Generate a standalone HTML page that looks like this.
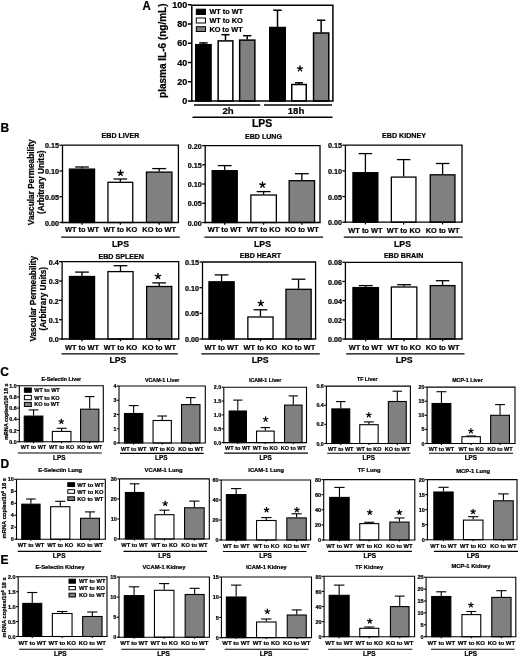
<!DOCTYPE html><html><head><meta charset="utf-8"><style>html,body{margin:0;padding:0;background:#fff;}svg{display:block;filter:grayscale(1);}text{font-family:"Liberation Sans", sans-serif;font-weight:bold;fill:#000;stroke:#000;stroke-width:0.22px;}</style></head><body>
<svg width="520" height="657" viewBox="0 0 520 657">
<rect x="0" y="0" width="520" height="657" fill="#fff"/>
<text transform="translate(142.6,9.6) scale(1,1.1)" font-size="11.4">A</text>
<text transform="translate(166.4,50.7) rotate(-90)" font-size="10" text-anchor="middle">plasma IL-6 (ng/mL)</text>
<line x1="203.4" y1="44.2" x2="203.4" y2="42.9" stroke="#000" stroke-width="1.5"/>
<line x1="199.2" y1="42.9" x2="207.6" y2="42.9" stroke="#000" stroke-width="1.5"/>
<rect x="195.75" y="44.7" width="15.3" height="56.3" fill="#000" stroke="#000" stroke-width="1.5"/>
<line x1="203.4" y1="101" x2="203.4" y2="101" stroke="#000" stroke-width="1.5"/>
<line x1="225.5" y1="40.4" x2="225.5" y2="34.7" stroke="#000" stroke-width="1.5"/>
<line x1="221.45" y1="34.7" x2="229.55" y2="34.7" stroke="#000" stroke-width="1.5"/>
<rect x="218.15" y="40.9" width="14.7" height="60.1" fill="#fff" stroke="#000" stroke-width="1.5"/>
<line x1="225.5" y1="101" x2="225.5" y2="101" stroke="#000" stroke-width="1.5"/>
<line x1="247.25" y1="39.6" x2="247.25" y2="35.7" stroke="#000" stroke-width="1.5"/>
<line x1="243.07" y1="35.7" x2="251.43" y2="35.7" stroke="#000" stroke-width="1.5"/>
<rect x="239.65" y="40.1" width="15.2" height="60.9" fill="#808080" stroke="#000" stroke-width="1.5"/>
<line x1="247.25" y1="101" x2="247.25" y2="101" stroke="#000" stroke-width="1.5"/>
<line x1="277.5" y1="27" x2="277.5" y2="10.2" stroke="#000" stroke-width="1.5"/>
<line x1="273.25" y1="10.2" x2="281.75" y2="10.2" stroke="#000" stroke-width="1.5"/>
<rect x="269.75" y="27.5" width="15.5" height="73.5" fill="#000" stroke="#000" stroke-width="1.5"/>
<line x1="277.5" y1="101" x2="277.5" y2="101" stroke="#000" stroke-width="1.5"/>
<line x1="299.0" y1="84" x2="299.0" y2="82.8" stroke="#000" stroke-width="1.5"/>
<line x1="295.0" y1="82.8" x2="303.0" y2="82.8" stroke="#000" stroke-width="1.5"/>
<rect x="291.75" y="84.5" width="14.5" height="16.5" fill="#fff" stroke="#000" stroke-width="1.5"/>
<line x1="299.0" y1="101" x2="299.0" y2="101" stroke="#000" stroke-width="1.5"/>
<line x1="321.15" y1="32.5" x2="321.15" y2="20.2" stroke="#000" stroke-width="1.5"/>
<line x1="316.97" y1="20.2" x2="325.32" y2="20.2" stroke="#000" stroke-width="1.5"/>
<rect x="313.55" y="33.0" width="15.2" height="68.0" fill="#808080" stroke="#000" stroke-width="1.5"/>
<line x1="321.15" y1="101" x2="321.15" y2="101" stroke="#000" stroke-width="1.5"/>
<path d="M191.8,5.2H332.9V101" fill="none" stroke="#000" stroke-width="1.5"/>
<line x1="191.8" y1="5.2" x2="191.8" y2="101.75" stroke="#000" stroke-width="1.5"/>
<line x1="191.05" y1="101" x2="333.65" y2="101" stroke="#000" stroke-width="1.5"/>
<line x1="187.8" y1="101.0" x2="191.8" y2="101.0" stroke="#000" stroke-width="1.5"/>
<text x="187.2" y="104.19" font-size="9" text-anchor="end" >0</text>
<line x1="187.8" y1="81.75" x2="191.8" y2="81.75" stroke="#000" stroke-width="1.5"/>
<text x="187.2" y="84.94" font-size="9" text-anchor="end" >20</text>
<line x1="187.8" y1="62.5" x2="191.8" y2="62.5" stroke="#000" stroke-width="1.5"/>
<text x="187.2" y="65.69" font-size="9" text-anchor="end" >40</text>
<line x1="187.8" y1="43.25" x2="191.8" y2="43.25" stroke="#000" stroke-width="1.5"/>
<text x="187.2" y="46.44" font-size="9" text-anchor="end" >60</text>
<line x1="187.8" y1="24.0" x2="191.8" y2="24.0" stroke="#000" stroke-width="1.5"/>
<text x="187.2" y="27.19" font-size="9" text-anchor="end" >80</text>
<line x1="187.8" y1="4.75" x2="191.8" y2="4.75" stroke="#000" stroke-width="1.5"/>
<text x="187.2" y="7.94" font-size="9" text-anchor="end" >100</text>
<rect x="196.3" y="9.2" width="9.2" height="5.3" fill="#000" stroke="#000" stroke-width="1"/>
<text x="209.4" y="14.45" font-size="7.3" text-anchor="start" >WT to WT</text>
<rect x="196.3" y="18.0" width="9.2" height="5.0" fill="#fff" stroke="#000" stroke-width="1"/>
<text x="209.4" y="23.1" font-size="7.3" text-anchor="start" >WT to KO</text>
<rect x="196.3" y="26.7" width="9.2" height="4.8" fill="#808080" stroke="#000" stroke-width="1"/>
<text x="209.4" y="31.7" font-size="7.3" text-anchor="start" >KO to WT</text>
<path d="M300,68.7L300.0,66.0M300,68.7L302.57,67.87M300,68.7L301.59,70.88M300,68.7L298.41,70.88M300,68.7L297.43,67.87" stroke="#000" stroke-width="1.3" stroke-linecap="round" fill="none"/>
<line x1="194" y1="105.1" x2="260.2" y2="105.1" stroke="#000" stroke-width="1.5"/>
<line x1="264" y1="105.1" x2="332" y2="105.1" stroke="#000" stroke-width="1.5"/>
<text x="228" y="114" font-size="9.6" text-anchor="middle" >2h</text>
<text x="296" y="114" font-size="9.6" text-anchor="middle" >18h</text>
<line x1="192.5" y1="117.2" x2="332.5" y2="117.2" stroke="#000" stroke-width="1.5"/>
<text x="262" y="126.7" font-size="10.4" text-anchor="middle" >LPS</text>
<text transform="translate(0.4,132.0) scale(1,1.1)" font-size="12.0">B</text>
<text transform="translate(33.9,182.3) rotate(-90)" font-size="8.3" text-anchor="middle">Vascular Permeability</text>
<text transform="translate(43.5,182.3) rotate(-90)" font-size="8.3" text-anchor="middle">(Arbitrary Units)</text>
<text transform="translate(36.1,298.7) rotate(-90)" font-size="8.3" text-anchor="middle">Vascular Permeability</text>
<text transform="translate(45.7,298.7) rotate(-90)" font-size="8.3" text-anchor="middle">(Arbitrary Units)</text>
<line x1="82.0" y1="168.6" x2="82.0" y2="167.0" stroke="#000" stroke-width="1.3"/>
<line x1="75.14" y1="167.0" x2="88.86" y2="167.0" stroke="#000" stroke-width="1.3"/>
<rect x="69.45" y="169.1" width="25.1" height="53.4" fill="#000" stroke="#000" stroke-width="1.3"/>
<line x1="82.0" y1="222.5" x2="82.0" y2="224.7" stroke="#000" stroke-width="1.3"/>
<line x1="120.35" y1="181.8" x2="120.35" y2="179.0" stroke="#000" stroke-width="1.3"/>
<line x1="113.56" y1="179.0" x2="127.14" y2="179.0" stroke="#000" stroke-width="1.3"/>
<rect x="107.95" y="182.3" width="24.8" height="40.2" fill="#fff" stroke="#000" stroke-width="1.3"/>
<line x1="120.35" y1="222.5" x2="120.35" y2="224.7" stroke="#000" stroke-width="1.3"/>
<line x1="159.2" y1="171.6" x2="159.2" y2="168.6" stroke="#000" stroke-width="1.3"/>
<line x1="152.23" y1="168.6" x2="166.17" y2="168.6" stroke="#000" stroke-width="1.3"/>
<rect x="146.45" y="172.1" width="25.5" height="50.4" fill="#808080" stroke="#000" stroke-width="1.3"/>
<line x1="159.2" y1="222.5" x2="159.2" y2="224.7" stroke="#000" stroke-width="1.3"/>
<path d="M62.5,145.2H178.4V222.5" fill="none" stroke="#000" stroke-width="1.3"/>
<line x1="62.5" y1="145.2" x2="62.5" y2="223.15" stroke="#000" stroke-width="1.3"/>
<line x1="61.85" y1="222.5" x2="179.05" y2="222.5" stroke="#000" stroke-width="1.3"/>
<line x1="59.5" y1="145.2" x2="62.5" y2="145.2" stroke="#000" stroke-width="1.3"/>
<text x="59.1" y="148.35" font-size="7.2" text-anchor="end" >0.15</text>
<line x1="59.5" y1="170.97" x2="62.5" y2="170.97" stroke="#000" stroke-width="1.3"/>
<text x="59.1" y="174.12" font-size="7.2" text-anchor="end" >0.10</text>
<line x1="59.5" y1="196.73" x2="62.5" y2="196.73" stroke="#000" stroke-width="1.3"/>
<text x="59.1" y="199.88" font-size="7.2" text-anchor="end" >0.05</text>
<line x1="59.5" y1="222.5" x2="62.5" y2="222.5" stroke="#000" stroke-width="1.3"/>
<text x="59.1" y="225.65" font-size="7.2" text-anchor="end" >0.00</text>
<text x="120.5" y="138.3" font-size="7.1" text-anchor="middle" >EBD LIVER</text>
<text x="82.0" y="232.3" font-size="7.4" text-anchor="middle" >WT to WT</text>
<text x="120.35" y="232.3" font-size="7.4" text-anchor="middle" >WT to KO</text>
<text x="159.2" y="232.3" font-size="7.4" text-anchor="middle" >KO to WT</text>
<line x1="61.2" y1="237.2" x2="179.8" y2="237.2" stroke="#000" stroke-width="1.3"/>
<text x="120.5" y="246.5" font-size="8.7" text-anchor="middle" >LPS</text>
<path d="M120.5,173.1L120.5,170.3M120.5,173.1L123.16,172.23M120.5,173.1L122.15,175.37M120.5,173.1L118.85,175.37M120.5,173.1L117.84,172.23" stroke="#000" stroke-width="1.4" stroke-linecap="round" fill="none"/>
<line x1="224.7" y1="170.2" x2="224.7" y2="165.6" stroke="#000" stroke-width="1.3"/>
<line x1="217.84" y1="165.6" x2="231.56" y2="165.6" stroke="#000" stroke-width="1.3"/>
<rect x="212.15" y="170.7" width="25.1" height="51.8" fill="#000" stroke="#000" stroke-width="1.3"/>
<line x1="224.7" y1="222.5" x2="224.7" y2="224.7" stroke="#000" stroke-width="1.3"/>
<line x1="263.6" y1="194.5" x2="263.6" y2="191.6" stroke="#000" stroke-width="1.3"/>
<line x1="256.63" y1="191.6" x2="270.57" y2="191.6" stroke="#000" stroke-width="1.3"/>
<rect x="250.85" y="195.0" width="25.5" height="27.5" fill="#fff" stroke="#000" stroke-width="1.3"/>
<line x1="263.6" y1="222.5" x2="263.6" y2="224.7" stroke="#000" stroke-width="1.3"/>
<line x1="301.85" y1="180.2" x2="301.85" y2="173.7" stroke="#000" stroke-width="1.3"/>
<line x1="294.91" y1="173.7" x2="308.79" y2="173.7" stroke="#000" stroke-width="1.3"/>
<rect x="289.15" y="180.7" width="25.4" height="41.8" fill="#808080" stroke="#000" stroke-width="1.3"/>
<line x1="301.85" y1="222.5" x2="301.85" y2="224.7" stroke="#000" stroke-width="1.3"/>
<path d="M205.2,145.6H320V222.5" fill="none" stroke="#000" stroke-width="1.3"/>
<line x1="205.2" y1="145.6" x2="205.2" y2="223.15" stroke="#000" stroke-width="1.3"/>
<line x1="204.55" y1="222.5" x2="320.65" y2="222.5" stroke="#000" stroke-width="1.3"/>
<line x1="202.2" y1="145.6" x2="205.2" y2="145.6" stroke="#000" stroke-width="1.3"/>
<text x="201.8" y="148.75" font-size="7.2" text-anchor="end" >0.20</text>
<line x1="202.2" y1="164.82" x2="205.2" y2="164.82" stroke="#000" stroke-width="1.3"/>
<text x="201.8" y="167.97" font-size="7.2" text-anchor="end" >0.15</text>
<line x1="202.2" y1="184.05" x2="205.2" y2="184.05" stroke="#000" stroke-width="1.3"/>
<text x="201.8" y="187.2" font-size="7.2" text-anchor="end" >0.10</text>
<line x1="202.2" y1="203.28" x2="205.2" y2="203.28" stroke="#000" stroke-width="1.3"/>
<text x="201.8" y="206.42" font-size="7.2" text-anchor="end" >0.05</text>
<line x1="202.2" y1="222.5" x2="205.2" y2="222.5" stroke="#000" stroke-width="1.3"/>
<text x="201.8" y="225.65" font-size="7.2" text-anchor="end" >0.00</text>
<text x="263.5" y="138.5" font-size="7.1" text-anchor="middle" >EBD LUNG</text>
<text x="224.7" y="232.3" font-size="7.4" text-anchor="middle" >WT to WT</text>
<text x="263.6" y="232.3" font-size="7.4" text-anchor="middle" >WT to KO</text>
<text x="301.85" y="232.3" font-size="7.4" text-anchor="middle" >KO to WT</text>
<line x1="204.4" y1="237.2" x2="323.1" y2="237.2" stroke="#000" stroke-width="1.3"/>
<text x="262.5" y="246.5" font-size="8.7" text-anchor="middle" >LPS</text>
<path d="M262.5,184.9L262.5,182.1M262.5,184.9L265.16,184.03M262.5,184.9L264.15,187.17M262.5,184.9L260.85,187.17M262.5,184.9L259.84,184.03" stroke="#000" stroke-width="1.4" stroke-linecap="round" fill="none"/>
<line x1="365.4" y1="172.2" x2="365.4" y2="153.6" stroke="#000" stroke-width="1.3"/>
<line x1="358.59" y1="153.6" x2="372.21" y2="153.6" stroke="#000" stroke-width="1.3"/>
<rect x="352.95" y="172.7" width="24.9" height="49.5" fill="#000" stroke="#000" stroke-width="1.3"/>
<line x1="365.4" y1="222.2" x2="365.4" y2="224.4" stroke="#000" stroke-width="1.3"/>
<line x1="403.65" y1="176.6" x2="403.65" y2="159.6" stroke="#000" stroke-width="1.3"/>
<line x1="396.92" y1="159.6" x2="410.38" y2="159.6" stroke="#000" stroke-width="1.3"/>
<rect x="391.35" y="177.1" width="24.6" height="45.1" fill="#fff" stroke="#000" stroke-width="1.3"/>
<line x1="403.65" y1="222.2" x2="403.65" y2="224.4" stroke="#000" stroke-width="1.3"/>
<line x1="442.6" y1="174.3" x2="442.6" y2="163.5" stroke="#000" stroke-width="1.3"/>
<line x1="435.84" y1="163.5" x2="449.36" y2="163.5" stroke="#000" stroke-width="1.3"/>
<rect x="430.25" y="174.8" width="24.7" height="47.4" fill="#808080" stroke="#000" stroke-width="1.3"/>
<line x1="442.6" y1="222.2" x2="442.6" y2="224.4" stroke="#000" stroke-width="1.3"/>
<path d="M345.4,145.2H462V222.2" fill="none" stroke="#000" stroke-width="1.3"/>
<line x1="345.4" y1="145.2" x2="345.4" y2="222.85" stroke="#000" stroke-width="1.3"/>
<line x1="344.75" y1="222.2" x2="462.65" y2="222.2" stroke="#000" stroke-width="1.3"/>
<line x1="342.4" y1="145.2" x2="345.4" y2="145.2" stroke="#000" stroke-width="1.3"/>
<text x="342.0" y="148.35" font-size="7.2" text-anchor="end" >0.15</text>
<line x1="342.4" y1="170.87" x2="345.4" y2="170.87" stroke="#000" stroke-width="1.3"/>
<text x="342.0" y="174.02" font-size="7.2" text-anchor="end" >0.10</text>
<line x1="342.4" y1="196.53" x2="345.4" y2="196.53" stroke="#000" stroke-width="1.3"/>
<text x="342.0" y="199.68" font-size="7.2" text-anchor="end" >0.05</text>
<line x1="342.4" y1="222.2" x2="345.4" y2="222.2" stroke="#000" stroke-width="1.3"/>
<text x="342.0" y="225.35" font-size="7.2" text-anchor="end" >0.00</text>
<text x="404" y="138.2" font-size="7.1" text-anchor="middle" >EBD KIDNEY</text>
<text x="365.4" y="232.6" font-size="7.4" text-anchor="middle" >WT to WT</text>
<text x="403.65" y="232.6" font-size="7.4" text-anchor="middle" >WT to KO</text>
<text x="442.6" y="232.6" font-size="7.4" text-anchor="middle" >KO to WT</text>
<line x1="343.8" y1="237.2" x2="462.6" y2="237.2" stroke="#000" stroke-width="1.3"/>
<text x="402.5" y="246.5" font-size="8.7" text-anchor="middle" >LPS</text>
<line x1="82.0" y1="276" x2="82.0" y2="272.1" stroke="#000" stroke-width="1.3"/>
<line x1="75.14" y1="272.1" x2="88.86" y2="272.1" stroke="#000" stroke-width="1.3"/>
<rect x="69.45" y="276.5" width="25.1" height="62.5" fill="#000" stroke="#000" stroke-width="1.3"/>
<line x1="82.0" y1="339" x2="82.0" y2="341.2" stroke="#000" stroke-width="1.3"/>
<line x1="120.5" y1="271.1" x2="120.5" y2="265.7" stroke="#000" stroke-width="1.3"/>
<line x1="113.64" y1="265.7" x2="127.36" y2="265.7" stroke="#000" stroke-width="1.3"/>
<rect x="107.95" y="271.6" width="25.1" height="67.4" fill="#fff" stroke="#000" stroke-width="1.3"/>
<line x1="120.5" y1="339" x2="120.5" y2="341.2" stroke="#000" stroke-width="1.3"/>
<line x1="159.2" y1="286" x2="159.2" y2="282.9" stroke="#000" stroke-width="1.3"/>
<line x1="152.34" y1="282.9" x2="166.06" y2="282.9" stroke="#000" stroke-width="1.3"/>
<rect x="146.65" y="286.5" width="25.1" height="52.5" fill="#808080" stroke="#000" stroke-width="1.3"/>
<line x1="159.2" y1="339" x2="159.2" y2="341.2" stroke="#000" stroke-width="1.3"/>
<path d="M62.1,261.7H178.7V339" fill="none" stroke="#000" stroke-width="1.3"/>
<line x1="62.1" y1="261.7" x2="62.1" y2="339.65" stroke="#000" stroke-width="1.3"/>
<line x1="61.45" y1="339" x2="179.35" y2="339" stroke="#000" stroke-width="1.3"/>
<line x1="59.1" y1="261.7" x2="62.1" y2="261.7" stroke="#000" stroke-width="1.3"/>
<text x="58.7" y="264.85" font-size="7.2" text-anchor="end" >0.4</text>
<line x1="59.1" y1="281.02" x2="62.1" y2="281.02" stroke="#000" stroke-width="1.3"/>
<text x="58.7" y="284.17" font-size="7.2" text-anchor="end" >0.3</text>
<line x1="59.1" y1="300.35" x2="62.1" y2="300.35" stroke="#000" stroke-width="1.3"/>
<text x="58.7" y="303.5" font-size="7.2" text-anchor="end" >0.2</text>
<line x1="59.1" y1="319.68" x2="62.1" y2="319.68" stroke="#000" stroke-width="1.3"/>
<text x="58.7" y="322.82" font-size="7.2" text-anchor="end" >0.1</text>
<line x1="59.1" y1="339.0" x2="62.1" y2="339.0" stroke="#000" stroke-width="1.3"/>
<text x="58.7" y="342.15" font-size="7.2" text-anchor="end" >0.0</text>
<text x="121.2" y="258.8" font-size="7.1" text-anchor="middle" >EBD SPLEEN</text>
<text x="82.0" y="349.6" font-size="7.4" text-anchor="middle" >WT to WT</text>
<text x="120.5" y="349.6" font-size="7.4" text-anchor="middle" >WT to KO</text>
<text x="159.2" y="349.6" font-size="7.4" text-anchor="middle" >KO to WT</text>
<line x1="61.5" y1="353.8" x2="177.9" y2="353.8" stroke="#000" stroke-width="1.3"/>
<text x="117.9" y="363.1" font-size="8.7" text-anchor="middle" >LPS</text>
<path d="M158,276.3L158.0,273.5M158,276.3L160.66,275.43M158,276.3L159.65,278.57M158,276.3L156.35,278.57M158,276.3L155.34,275.43" stroke="#000" stroke-width="1.4" stroke-linecap="round" fill="none"/>
<line x1="221.55" y1="281.3" x2="221.55" y2="274.9" stroke="#000" stroke-width="1.3"/>
<line x1="214.66" y1="274.9" x2="228.44" y2="274.9" stroke="#000" stroke-width="1.3"/>
<rect x="208.95" y="281.8" width="25.2" height="57.2" fill="#000" stroke="#000" stroke-width="1.3"/>
<line x1="221.55" y1="339" x2="221.55" y2="341.2" stroke="#000" stroke-width="1.3"/>
<line x1="260.45" y1="316.5" x2="260.45" y2="309.8" stroke="#000" stroke-width="1.3"/>
<line x1="253.56" y1="309.8" x2="267.34" y2="309.8" stroke="#000" stroke-width="1.3"/>
<rect x="247.85" y="317.0" width="25.2" height="22.0" fill="#fff" stroke="#000" stroke-width="1.3"/>
<line x1="260.45" y1="339" x2="260.45" y2="341.2" stroke="#000" stroke-width="1.3"/>
<line x1="298.55" y1="288.8" x2="298.55" y2="279.2" stroke="#000" stroke-width="1.3"/>
<line x1="291.66" y1="279.2" x2="305.44" y2="279.2" stroke="#000" stroke-width="1.3"/>
<rect x="285.95" y="289.3" width="25.2" height="49.7" fill="#808080" stroke="#000" stroke-width="1.3"/>
<line x1="298.55" y1="339" x2="298.55" y2="341.2" stroke="#000" stroke-width="1.3"/>
<path d="M202.5,262H315.6V339" fill="none" stroke="#000" stroke-width="1.3"/>
<line x1="202.5" y1="262" x2="202.5" y2="339.65" stroke="#000" stroke-width="1.3"/>
<line x1="201.85" y1="339" x2="316.25" y2="339" stroke="#000" stroke-width="1.3"/>
<line x1="199.5" y1="262.0" x2="202.5" y2="262.0" stroke="#000" stroke-width="1.3"/>
<text x="199.1" y="265.15" font-size="7.2" text-anchor="end" >0.15</text>
<line x1="199.5" y1="287.67" x2="202.5" y2="287.67" stroke="#000" stroke-width="1.3"/>
<text x="199.1" y="290.82" font-size="7.2" text-anchor="end" >0.10</text>
<line x1="199.5" y1="313.33" x2="202.5" y2="313.33" stroke="#000" stroke-width="1.3"/>
<text x="199.1" y="316.48" font-size="7.2" text-anchor="end" >0.05</text>
<line x1="199.5" y1="339.0" x2="202.5" y2="339.0" stroke="#000" stroke-width="1.3"/>
<text x="199.1" y="342.15" font-size="7.2" text-anchor="end" >0.00</text>
<text x="260.5" y="258.2" font-size="7.1" text-anchor="middle" >EBD HEART</text>
<text x="221.55" y="349.6" font-size="7.4" text-anchor="middle" >WT to WT</text>
<text x="260.45" y="349.6" font-size="7.4" text-anchor="middle" >WT to KO</text>
<text x="298.55" y="349.6" font-size="7.4" text-anchor="middle" >KO to WT</text>
<line x1="201.3" y1="353.8" x2="319.8" y2="353.8" stroke="#000" stroke-width="1.3"/>
<text x="260.2" y="363.1" font-size="8.7" text-anchor="middle" >LPS</text>
<path d="M260.8,303.3L260.8,300.5M260.8,303.3L263.46,302.43M260.8,303.3L262.45,305.57M260.8,303.3L259.15,305.57M260.8,303.3L258.14,302.43" stroke="#000" stroke-width="1.4" stroke-linecap="round" fill="none"/>
<line x1="365.7" y1="287.1" x2="365.7" y2="285.6" stroke="#000" stroke-width="1.3"/>
<line x1="358.73" y1="285.6" x2="372.67" y2="285.6" stroke="#000" stroke-width="1.3"/>
<rect x="352.95" y="287.6" width="25.5" height="51.4" fill="#000" stroke="#000" stroke-width="1.3"/>
<line x1="365.7" y1="339" x2="365.7" y2="341.2" stroke="#000" stroke-width="1.3"/>
<line x1="404.1" y1="286.5" x2="404.1" y2="284.7" stroke="#000" stroke-width="1.3"/>
<line x1="397.13" y1="284.7" x2="411.07" y2="284.7" stroke="#000" stroke-width="1.3"/>
<rect x="391.35" y="287.0" width="25.5" height="52.0" fill="#fff" stroke="#000" stroke-width="1.3"/>
<line x1="404.1" y1="339" x2="404.1" y2="341.2" stroke="#000" stroke-width="1.3"/>
<line x1="442.6" y1="285.1" x2="442.6" y2="280.7" stroke="#000" stroke-width="1.3"/>
<line x1="435.84" y1="280.7" x2="449.36" y2="280.7" stroke="#000" stroke-width="1.3"/>
<rect x="430.25" y="285.6" width="24.7" height="53.4" fill="#808080" stroke="#000" stroke-width="1.3"/>
<line x1="442.6" y1="339" x2="442.6" y2="341.2" stroke="#000" stroke-width="1.3"/>
<path d="M345.4,262.3H462V339" fill="none" stroke="#000" stroke-width="1.3"/>
<line x1="345.4" y1="262.3" x2="345.4" y2="339.65" stroke="#000" stroke-width="1.3"/>
<line x1="344.75" y1="339" x2="462.65" y2="339" stroke="#000" stroke-width="1.3"/>
<line x1="342.4" y1="262.3" x2="345.4" y2="262.3" stroke="#000" stroke-width="1.3"/>
<text x="342.0" y="265.45" font-size="7.2" text-anchor="end" >0.08</text>
<line x1="342.4" y1="281.48" x2="345.4" y2="281.48" stroke="#000" stroke-width="1.3"/>
<text x="342.0" y="284.62" font-size="7.2" text-anchor="end" >0.06</text>
<line x1="342.4" y1="300.65" x2="345.4" y2="300.65" stroke="#000" stroke-width="1.3"/>
<text x="342.0" y="303.8" font-size="7.2" text-anchor="end" >0.04</text>
<line x1="342.4" y1="319.82" x2="345.4" y2="319.82" stroke="#000" stroke-width="1.3"/>
<text x="342.0" y="322.97" font-size="7.2" text-anchor="end" >0.02</text>
<line x1="342.4" y1="339.0" x2="345.4" y2="339.0" stroke="#000" stroke-width="1.3"/>
<text x="342.0" y="342.15" font-size="7.2" text-anchor="end" >0.00</text>
<text x="403.6" y="258.2" font-size="7.1" text-anchor="middle" >EBD BRAIN</text>
<text x="365.7" y="349.6" font-size="7.4" text-anchor="middle" >WT to WT</text>
<text x="404.1" y="349.6" font-size="7.4" text-anchor="middle" >WT to KO</text>
<text x="442.6" y="349.6" font-size="7.4" text-anchor="middle" >KO to WT</text>
<line x1="346.2" y1="353.8" x2="464.5" y2="353.8" stroke="#000" stroke-width="1.3"/>
<text x="404.2" y="363.1" font-size="8.7" text-anchor="middle" >LPS</text>
<text transform="translate(0.2,375.6) scale(1,1.1)" font-size="12.0">C</text>
<text transform="translate(0.4,467.5) scale(1,1.1)" font-size="12.0">D</text>
<text transform="translate(0.4,563.7) scale(1,1.1)" font-size="12.0">E</text>
<text transform="translate(8.4,411.7) rotate(-90)" font-size="5.4" text-anchor="middle">mRNA copies/10<tspan font-size="3.51" dy="-1.62">6</tspan><tspan dy="1.62"> 18 s</tspan></text>
<text transform="translate(5.6,508.2) rotate(-90)" font-size="5.8" text-anchor="middle">mRNA copies/10<tspan font-size="3.77" dy="-1.74">6</tspan><tspan dy="1.74"> 18 s</tspan></text>
<text transform="translate(5.6,607.4) rotate(-90)" font-size="5.75" text-anchor="middle">mRNA copies/10<tspan font-size="3.74" dy="-1.72">6</tspan><tspan dy="1.72"> 18 s</tspan></text>
<line x1="33.55" y1="415.6" x2="33.55" y2="409.9" stroke="#000" stroke-width="1.1"/>
<line x1="28.62" y1="409.9" x2="38.47" y2="409.9" stroke="#000" stroke-width="1.1"/>
<rect x="24.25" y="416.1" width="18.6" height="25.6" fill="#000" stroke="#000" stroke-width="1.1"/>
<line x1="33.55" y1="441.7" x2="33.55" y2="443.2" stroke="#000" stroke-width="1.1"/>
<line x1="61.65" y1="430.9" x2="61.65" y2="428.3" stroke="#000" stroke-width="1.1"/>
<line x1="56.72" y1="428.3" x2="66.58" y2="428.3" stroke="#000" stroke-width="1.1"/>
<rect x="52.35" y="431.4" width="18.6" height="10.3" fill="#fff" stroke="#000" stroke-width="1.1"/>
<line x1="61.65" y1="441.7" x2="61.65" y2="443.2" stroke="#000" stroke-width="1.1"/>
<line x1="89.7" y1="408.7" x2="89.7" y2="396.6" stroke="#000" stroke-width="1.1"/>
<line x1="84.85" y1="396.6" x2="94.55" y2="396.6" stroke="#000" stroke-width="1.1"/>
<rect x="80.55" y="409.2" width="18.3" height="32.5" fill="#808080" stroke="#000" stroke-width="1.1"/>
<line x1="89.7" y1="441.7" x2="89.7" y2="443.2" stroke="#000" stroke-width="1.1"/>
<path d="M19.3,385.7H103.3V441.7" fill="none" stroke="#000" stroke-width="1.1"/>
<line x1="19.3" y1="385.7" x2="19.3" y2="442.25" stroke="#000" stroke-width="1.1"/>
<line x1="18.75" y1="441.7" x2="103.85" y2="441.7" stroke="#000" stroke-width="1.1"/>
<line x1="17.1" y1="385.7" x2="19.3" y2="385.7" stroke="#000" stroke-width="1.1"/>
<text x="16.7" y="387.78" font-size="5.3" text-anchor="end" >1.0</text>
<line x1="17.1" y1="396.9" x2="19.3" y2="396.9" stroke="#000" stroke-width="1.1"/>
<text x="16.7" y="398.98" font-size="5.3" text-anchor="end" >0.8</text>
<line x1="17.1" y1="408.1" x2="19.3" y2="408.1" stroke="#000" stroke-width="1.1"/>
<text x="16.7" y="410.18" font-size="5.3" text-anchor="end" >0.6</text>
<line x1="17.1" y1="419.3" x2="19.3" y2="419.3" stroke="#000" stroke-width="1.1"/>
<text x="16.7" y="421.38" font-size="5.3" text-anchor="end" >0.4</text>
<line x1="17.1" y1="430.5" x2="19.3" y2="430.5" stroke="#000" stroke-width="1.1"/>
<text x="16.7" y="432.58" font-size="5.3" text-anchor="end" >0.2</text>
<line x1="17.1" y1="441.7" x2="19.3" y2="441.7" stroke="#000" stroke-width="1.1"/>
<text x="16.7" y="443.78" font-size="5.3" text-anchor="end" >0.0</text>
<text x="61.3" y="381.41" font-size="5.3" text-anchor="middle" >E-Selectin Liver</text>
<text x="33.55" y="448.88" font-size="5.5" text-anchor="middle" >WT to WT</text>
<text x="61.65" y="448.88" font-size="5.5" text-anchor="middle" >WT to KO</text>
<text x="89.7" y="448.88" font-size="5.5" text-anchor="middle" >KO to WT</text>
<line x1="17.8" y1="453.0" x2="101.7" y2="453.0" stroke="#000" stroke-width="1.1"/>
<text x="59.3" y="459.8" font-size="6.4" text-anchor="middle" >LPS</text>
<path d="M61.3,421.55L61.3,419.15M61.3,421.55L63.58,420.81M61.3,421.55L62.71,423.49M61.3,421.55L59.89,423.49M61.3,421.55L59.02,420.81" stroke="#000" stroke-width="1.2" stroke-linecap="round" fill="none"/>
<rect x="24.4" y="388.0" width="6.9" height="4.3" fill="#000" stroke="#000" stroke-width="1"/>
<text x="34.2" y="392.15" font-size="5.55" text-anchor="start" >WT to WT</text>
<rect x="24.4" y="395.4" width="6.9" height="4.3" fill="#fff" stroke="#000" stroke-width="1"/>
<text x="34.2" y="399.55" font-size="5.55" text-anchor="start" >WT to KO</text>
<rect x="24.4" y="402.4" width="6.9" height="4.1" fill="#808080" stroke="#000" stroke-width="1"/>
<text x="34.2" y="406.45" font-size="5.55" text-anchor="start" >KO to WT</text>
<line x1="133.65" y1="413" x2="133.65" y2="405.6" stroke="#000" stroke-width="1.1"/>
<line x1="128.78" y1="405.6" x2="138.53" y2="405.6" stroke="#000" stroke-width="1.1"/>
<rect x="124.45" y="413.5" width="18.4" height="29.5" fill="#000" stroke="#000" stroke-width="1.1"/>
<line x1="133.65" y1="443" x2="133.65" y2="444.5" stroke="#000" stroke-width="1.1"/>
<line x1="162.2" y1="420" x2="162.2" y2="416.0" stroke="#000" stroke-width="1.1"/>
<line x1="157.35" y1="416.0" x2="167.05" y2="416.0" stroke="#000" stroke-width="1.1"/>
<rect x="153.05" y="420.5" width="18.3" height="22.5" fill="#fff" stroke="#000" stroke-width="1.1"/>
<line x1="162.2" y1="443" x2="162.2" y2="444.5" stroke="#000" stroke-width="1.1"/>
<line x1="190.75" y1="404.1" x2="190.75" y2="397.6" stroke="#000" stroke-width="1.1"/>
<line x1="185.88" y1="397.6" x2="195.62" y2="397.6" stroke="#000" stroke-width="1.1"/>
<rect x="181.55" y="404.6" width="18.4" height="38.4" fill="#808080" stroke="#000" stroke-width="1.1"/>
<line x1="190.75" y1="443" x2="190.75" y2="444.5" stroke="#000" stroke-width="1.1"/>
<path d="M119,386H205.3V443" fill="none" stroke="#000" stroke-width="1.1"/>
<line x1="119" y1="386" x2="119" y2="443.55" stroke="#000" stroke-width="1.1"/>
<line x1="118.45" y1="443" x2="205.85" y2="443" stroke="#000" stroke-width="1.1"/>
<line x1="116.8" y1="386.0" x2="119" y2="386.0" stroke="#000" stroke-width="1.1"/>
<text x="116.4" y="388.08" font-size="5.3" text-anchor="end" >4</text>
<line x1="116.8" y1="400.25" x2="119" y2="400.25" stroke="#000" stroke-width="1.1"/>
<text x="116.4" y="402.33" font-size="5.3" text-anchor="end" >3</text>
<line x1="116.8" y1="414.5" x2="119" y2="414.5" stroke="#000" stroke-width="1.1"/>
<text x="116.4" y="416.58" font-size="5.3" text-anchor="end" >2</text>
<line x1="116.8" y1="428.75" x2="119" y2="428.75" stroke="#000" stroke-width="1.1"/>
<text x="116.4" y="430.83" font-size="5.3" text-anchor="end" >1</text>
<line x1="116.8" y1="443.0" x2="119" y2="443.0" stroke="#000" stroke-width="1.1"/>
<text x="116.4" y="445.08" font-size="5.3" text-anchor="end" >0</text>
<text x="162.2" y="382.11" font-size="5.3" text-anchor="middle" >VCAM-1 Liver</text>
<text x="133.65" y="451.08" font-size="5.5" text-anchor="middle" >WT to WT</text>
<text x="162.2" y="451.08" font-size="5.5" text-anchor="middle" >WT to KO</text>
<text x="190.75" y="451.08" font-size="5.5" text-anchor="middle" >KO to WT</text>
<line x1="120" y1="453.4" x2="203.7" y2="453.4" stroke="#000" stroke-width="1.1"/>
<text x="161.3" y="460.0" font-size="6.4" text-anchor="middle" >LPS</text>
<line x1="237.8" y1="410.5" x2="237.8" y2="400.1" stroke="#000" stroke-width="1.1"/>
<line x1="233.2" y1="400.1" x2="242.4" y2="400.1" stroke="#000" stroke-width="1.1"/>
<rect x="229.15" y="411.0" width="17.3" height="31.6" fill="#000" stroke="#000" stroke-width="1.1"/>
<line x1="237.8" y1="442.6" x2="237.8" y2="444.1" stroke="#000" stroke-width="1.1"/>
<line x1="265.35" y1="430.6" x2="265.35" y2="427.6" stroke="#000" stroke-width="1.1"/>
<line x1="260.68" y1="427.6" x2="270.03" y2="427.6" stroke="#000" stroke-width="1.1"/>
<rect x="256.55" y="431.1" width="17.6" height="11.5" fill="#fff" stroke="#000" stroke-width="1.1"/>
<line x1="265.35" y1="442.6" x2="265.35" y2="444.1" stroke="#000" stroke-width="1.1"/>
<line x1="293.3" y1="404.6" x2="293.3" y2="395.9" stroke="#000" stroke-width="1.1"/>
<line x1="288.65" y1="395.9" x2="297.95" y2="395.9" stroke="#000" stroke-width="1.1"/>
<rect x="284.55" y="405.1" width="17.5" height="37.5" fill="#808080" stroke="#000" stroke-width="1.1"/>
<line x1="293.3" y1="442.6" x2="293.3" y2="444.1" stroke="#000" stroke-width="1.1"/>
<path d="M223.8,387.2H306.5V442.6" fill="none" stroke="#000" stroke-width="1.1"/>
<line x1="223.8" y1="387.2" x2="223.8" y2="443.15" stroke="#000" stroke-width="1.1"/>
<line x1="223.25" y1="442.6" x2="307.05" y2="442.6" stroke="#000" stroke-width="1.1"/>
<line x1="221.6" y1="387.2" x2="223.8" y2="387.2" stroke="#000" stroke-width="1.1"/>
<text x="221.2" y="389.28" font-size="5.3" text-anchor="end" >2.0</text>
<line x1="221.6" y1="401.05" x2="223.8" y2="401.05" stroke="#000" stroke-width="1.1"/>
<text x="221.2" y="403.13" font-size="5.3" text-anchor="end" >1.5</text>
<line x1="221.6" y1="414.9" x2="223.8" y2="414.9" stroke="#000" stroke-width="1.1"/>
<text x="221.2" y="416.98" font-size="5.3" text-anchor="end" >1.0</text>
<line x1="221.6" y1="428.75" x2="223.8" y2="428.75" stroke="#000" stroke-width="1.1"/>
<text x="221.2" y="430.83" font-size="5.3" text-anchor="end" >0.5</text>
<line x1="221.6" y1="442.6" x2="223.8" y2="442.6" stroke="#000" stroke-width="1.1"/>
<text x="221.2" y="444.68" font-size="5.3" text-anchor="end" >0.0</text>
<text x="265.2" y="382.11" font-size="5.3" text-anchor="middle" >ICAM-1 Liver</text>
<text x="237.8" y="450.08" font-size="5.5" text-anchor="middle" >WT to WT</text>
<text x="265.35" y="450.08" font-size="5.5" text-anchor="middle" >WT to KO</text>
<text x="293.3" y="450.08" font-size="5.5" text-anchor="middle" >KO to WT</text>
<line x1="224.3" y1="453.1" x2="308" y2="453.1" stroke="#000" stroke-width="1.1"/>
<text x="265.6" y="460.0" font-size="6.4" text-anchor="middle" >LPS</text>
<path d="M265.6,419.25L265.6,416.85M265.6,419.25L267.88,418.51M265.6,419.25L267.01,421.19M265.6,419.25L264.19,421.19M265.6,419.25L263.32,418.51" stroke="#000" stroke-width="1.2" stroke-linecap="round" fill="none"/>
<line x1="340.8" y1="408.4" x2="340.8" y2="401.6" stroke="#000" stroke-width="1.1"/>
<line x1="336.05" y1="401.6" x2="345.55" y2="401.6" stroke="#000" stroke-width="1.1"/>
<rect x="331.85" y="408.9" width="17.9" height="34.6" fill="#000" stroke="#000" stroke-width="1.1"/>
<line x1="340.8" y1="443.5" x2="340.8" y2="445.0" stroke="#000" stroke-width="1.1"/>
<line x1="368.95" y1="424.2" x2="368.95" y2="421.9" stroke="#000" stroke-width="1.1"/>
<line x1="364.07" y1="421.9" x2="373.82" y2="421.9" stroke="#000" stroke-width="1.1"/>
<rect x="359.75" y="424.7" width="18.4" height="18.8" fill="#fff" stroke="#000" stroke-width="1.1"/>
<line x1="368.95" y1="443.5" x2="368.95" y2="445.0" stroke="#000" stroke-width="1.1"/>
<line x1="397.3" y1="401" x2="397.3" y2="391.2" stroke="#000" stroke-width="1.1"/>
<line x1="392.55" y1="391.2" x2="402.05" y2="391.2" stroke="#000" stroke-width="1.1"/>
<rect x="388.35" y="401.5" width="17.9" height="42.0" fill="#808080" stroke="#000" stroke-width="1.1"/>
<line x1="397.3" y1="443.5" x2="397.3" y2="445.0" stroke="#000" stroke-width="1.1"/>
<path d="M326.4,386.1H410.4V443.5" fill="none" stroke="#000" stroke-width="1.1"/>
<line x1="326.4" y1="386.1" x2="326.4" y2="444.05" stroke="#000" stroke-width="1.1"/>
<line x1="325.85" y1="443.5" x2="410.95" y2="443.5" stroke="#000" stroke-width="1.1"/>
<line x1="324.2" y1="386.1" x2="326.4" y2="386.1" stroke="#000" stroke-width="1.1"/>
<text x="323.8" y="388.18" font-size="5.3" text-anchor="end" >0.6</text>
<line x1="324.2" y1="405.23" x2="326.4" y2="405.23" stroke="#000" stroke-width="1.1"/>
<text x="323.8" y="407.31" font-size="5.3" text-anchor="end" >0.4</text>
<line x1="324.2" y1="424.37" x2="326.4" y2="424.37" stroke="#000" stroke-width="1.1"/>
<text x="323.8" y="426.44" font-size="5.3" text-anchor="end" >0.2</text>
<line x1="324.2" y1="443.5" x2="326.4" y2="443.5" stroke="#000" stroke-width="1.1"/>
<text x="323.8" y="445.58" font-size="5.3" text-anchor="end" >0.0</text>
<text x="367.2" y="381.31" font-size="5.3" text-anchor="middle" >TF Liver</text>
<text x="340.8" y="450.98" font-size="5.5" text-anchor="middle" >WT to WT</text>
<text x="368.95" y="450.98" font-size="5.5" text-anchor="middle" >WT to KO</text>
<text x="397.3" y="450.98" font-size="5.5" text-anchor="middle" >KO to WT</text>
<line x1="327.2" y1="453.3" x2="410.4" y2="453.3" stroke="#000" stroke-width="1.1"/>
<text x="368.8" y="460.1" font-size="6.4" text-anchor="middle" >LPS</text>
<path d="M368.8,414.95L368.8,412.55M368.8,414.95L371.08,414.21M368.8,414.95L370.21,416.89M368.8,414.95L367.39,416.89M368.8,414.95L366.52,414.21" stroke="#000" stroke-width="1.2" stroke-linecap="round" fill="none"/>
<line x1="441.45" y1="403" x2="441.45" y2="391.7" stroke="#000" stroke-width="1.1"/>
<line x1="436.48" y1="391.7" x2="446.42" y2="391.7" stroke="#000" stroke-width="1.1"/>
<rect x="432.05" y="403.5" width="18.8" height="40.0" fill="#000" stroke="#000" stroke-width="1.1"/>
<line x1="441.45" y1="443.5" x2="441.45" y2="445.0" stroke="#000" stroke-width="1.1"/>
<line x1="471.15" y1="436.2" x2="471.15" y2="436.0" stroke="#000" stroke-width="1.1"/>
<line x1="466.27" y1="436.0" x2="476.02" y2="436.0" stroke="#000" stroke-width="1.1"/>
<rect x="461.95" y="436.7" width="18.4" height="6.8" fill="#fff" stroke="#000" stroke-width="1.1"/>
<line x1="471.15" y1="443.5" x2="471.15" y2="445.0" stroke="#000" stroke-width="1.1"/>
<line x1="500.05" y1="414.8" x2="500.05" y2="404.6" stroke="#000" stroke-width="1.1"/>
<line x1="495.08" y1="404.6" x2="505.02" y2="404.6" stroke="#000" stroke-width="1.1"/>
<rect x="490.65" y="415.3" width="18.8" height="28.2" fill="#808080" stroke="#000" stroke-width="1.1"/>
<line x1="500.05" y1="443.5" x2="500.05" y2="445.0" stroke="#000" stroke-width="1.1"/>
<path d="M427.1,387.1H515V443.5" fill="none" stroke="#000" stroke-width="1.1"/>
<line x1="427.1" y1="387.1" x2="427.1" y2="444.05" stroke="#000" stroke-width="1.1"/>
<line x1="426.55" y1="443.5" x2="515.55" y2="443.5" stroke="#000" stroke-width="1.1"/>
<line x1="424.9" y1="387.1" x2="427.1" y2="387.1" stroke="#000" stroke-width="1.1"/>
<text x="424.5" y="389.18" font-size="5.3" text-anchor="end" >20</text>
<line x1="424.9" y1="401.2" x2="427.1" y2="401.2" stroke="#000" stroke-width="1.1"/>
<text x="424.5" y="403.28" font-size="5.3" text-anchor="end" >15</text>
<line x1="424.9" y1="415.3" x2="427.1" y2="415.3" stroke="#000" stroke-width="1.1"/>
<text x="424.5" y="417.38" font-size="5.3" text-anchor="end" >10</text>
<line x1="424.9" y1="429.4" x2="427.1" y2="429.4" stroke="#000" stroke-width="1.1"/>
<text x="424.5" y="431.48" font-size="5.3" text-anchor="end" >5</text>
<line x1="424.9" y1="443.5" x2="427.1" y2="443.5" stroke="#000" stroke-width="1.1"/>
<text x="424.5" y="445.58" font-size="5.3" text-anchor="end" >0</text>
<text x="467.5" y="381.91" font-size="5.3" text-anchor="middle" >MCP-1 Liver</text>
<text x="441.45" y="450.58" font-size="5.5" text-anchor="middle" >WT to WT</text>
<text x="471.15" y="450.58" font-size="5.5" text-anchor="middle" >WT to KO</text>
<text x="500.05" y="450.58" font-size="5.5" text-anchor="middle" >KO to WT</text>
<line x1="429.1" y1="453.2" x2="513.1" y2="453.2" stroke="#000" stroke-width="1.1"/>
<text x="470.9" y="460.2" font-size="6.4" text-anchor="middle" >LPS</text>
<path d="M470.9,430.95L470.9,428.55M470.9,430.95L473.18,430.21M470.9,430.95L472.31,432.89M470.9,430.95L469.49,432.89M470.9,430.95L468.62,430.21" stroke="#000" stroke-width="1.2" stroke-linecap="round" fill="none"/>
<line x1="30.9" y1="503.7" x2="30.9" y2="499.0" stroke="#000" stroke-width="1.1"/>
<line x1="26.05" y1="499.0" x2="35.75" y2="499.0" stroke="#000" stroke-width="1.1"/>
<rect x="21.75" y="504.2" width="18.3" height="35.0" fill="#000" stroke="#000" stroke-width="1.1"/>
<line x1="30.9" y1="539.2" x2="30.9" y2="540.7" stroke="#000" stroke-width="1.1"/>
<line x1="60.25" y1="506.2" x2="60.25" y2="501.3" stroke="#000" stroke-width="1.1"/>
<line x1="55.17" y1="501.3" x2="65.33" y2="501.3" stroke="#000" stroke-width="1.1"/>
<rect x="50.65" y="506.7" width="19.2" height="32.5" fill="#fff" stroke="#000" stroke-width="1.1"/>
<line x1="60.25" y1="539.2" x2="60.25" y2="540.7" stroke="#000" stroke-width="1.1"/>
<line x1="90.0" y1="517.8" x2="90.0" y2="511.9" stroke="#000" stroke-width="1.1"/>
<line x1="85.0" y1="511.9" x2="95.0" y2="511.9" stroke="#000" stroke-width="1.1"/>
<rect x="80.55" y="518.3" width="18.9" height="20.9" fill="#808080" stroke="#000" stroke-width="1.1"/>
<line x1="90.0" y1="539.2" x2="90.0" y2="540.7" stroke="#000" stroke-width="1.1"/>
<path d="M16.5,479.3H105.3V539.2" fill="none" stroke="#000" stroke-width="1.1"/>
<line x1="16.5" y1="479.3" x2="16.5" y2="539.75" stroke="#000" stroke-width="1.1"/>
<line x1="15.95" y1="539.2" x2="105.85" y2="539.2" stroke="#000" stroke-width="1.1"/>
<line x1="14.3" y1="479.3" x2="16.5" y2="479.3" stroke="#000" stroke-width="1.1"/>
<text x="13.9" y="481.45" font-size="5.5" text-anchor="end" >10</text>
<line x1="14.3" y1="491.28" x2="16.5" y2="491.28" stroke="#000" stroke-width="1.1"/>
<text x="13.9" y="493.43" font-size="5.5" text-anchor="end" >8</text>
<line x1="14.3" y1="503.26" x2="16.5" y2="503.26" stroke="#000" stroke-width="1.1"/>
<text x="13.9" y="505.41" font-size="5.5" text-anchor="end" >6</text>
<line x1="14.3" y1="515.24" x2="16.5" y2="515.24" stroke="#000" stroke-width="1.1"/>
<text x="13.9" y="517.39" font-size="5.5" text-anchor="end" >4</text>
<line x1="14.3" y1="527.22" x2="16.5" y2="527.22" stroke="#000" stroke-width="1.1"/>
<text x="13.9" y="529.37" font-size="5.5" text-anchor="end" >2</text>
<line x1="14.3" y1="539.2" x2="16.5" y2="539.2" stroke="#000" stroke-width="1.1"/>
<text x="13.9" y="541.35" font-size="5.5" text-anchor="end" >0</text>
<text x="60.2" y="472.29" font-size="5.8" text-anchor="middle" >E-Selectin Lung</text>
<text x="30.9" y="546.97" font-size="5.75" text-anchor="middle" >WT to WT</text>
<text x="60.25" y="546.97" font-size="5.75" text-anchor="middle" >WT to KO</text>
<text x="90.0" y="546.97" font-size="5.75" text-anchor="middle" >KO to WT</text>
<line x1="17.7" y1="551.4" x2="101.2" y2="551.4" stroke="#000" stroke-width="1.1"/>
<text x="59.2" y="557.84" font-size="6.5" text-anchor="middle" >LPS</text>
<rect x="67.8" y="482.7" width="6.8" height="3.8" fill="#000" stroke="#000" stroke-width="1"/>
<text x="77.2" y="486.67" font-size="5.75" text-anchor="start" >WT to WT</text>
<rect x="67.8" y="489.7" width="6.8" height="3.6" fill="#fff" stroke="#000" stroke-width="1"/>
<text x="77.2" y="493.57" font-size="5.75" text-anchor="start" >WT to KO</text>
<rect x="67.8" y="496.8" width="6.8" height="3.7" fill="#808080" stroke="#000" stroke-width="1"/>
<text x="77.2" y="500.72" font-size="5.75" text-anchor="start" >KO to WT</text>
<line x1="134.6" y1="492" x2="134.6" y2="483.8" stroke="#000" stroke-width="1.1"/>
<line x1="129.7" y1="483.8" x2="139.5" y2="483.8" stroke="#000" stroke-width="1.1"/>
<rect x="125.35" y="492.5" width="18.5" height="46.5" fill="#000" stroke="#000" stroke-width="1.1"/>
<line x1="134.6" y1="539" x2="134.6" y2="540.5" stroke="#000" stroke-width="1.1"/>
<line x1="164.45" y1="514.2" x2="164.45" y2="510.2" stroke="#000" stroke-width="1.1"/>
<line x1="159.42" y1="510.2" x2="169.47" y2="510.2" stroke="#000" stroke-width="1.1"/>
<rect x="154.95" y="514.7" width="19.0" height="24.3" fill="#fff" stroke="#000" stroke-width="1.1"/>
<line x1="164.45" y1="539" x2="164.45" y2="540.5" stroke="#000" stroke-width="1.1"/>
<line x1="194.35" y1="507.3" x2="194.35" y2="501.1" stroke="#000" stroke-width="1.1"/>
<line x1="189.18" y1="501.1" x2="199.52" y2="501.1" stroke="#000" stroke-width="1.1"/>
<rect x="184.55" y="507.8" width="19.6" height="31.2" fill="#808080" stroke="#000" stroke-width="1.1"/>
<line x1="194.35" y1="539" x2="194.35" y2="540.5" stroke="#000" stroke-width="1.1"/>
<path d="M119.5,478.9H209.3V539" fill="none" stroke="#000" stroke-width="1.1"/>
<line x1="119.5" y1="478.9" x2="119.5" y2="539.55" stroke="#000" stroke-width="1.1"/>
<line x1="118.95" y1="539" x2="209.85" y2="539" stroke="#000" stroke-width="1.1"/>
<line x1="117.3" y1="478.9" x2="119.5" y2="478.9" stroke="#000" stroke-width="1.1"/>
<text x="116.9" y="481.05" font-size="5.5" text-anchor="end" >30</text>
<line x1="117.3" y1="498.93" x2="119.5" y2="498.93" stroke="#000" stroke-width="1.1"/>
<text x="116.9" y="501.08" font-size="5.5" text-anchor="end" >20</text>
<line x1="117.3" y1="518.97" x2="119.5" y2="518.97" stroke="#000" stroke-width="1.1"/>
<text x="116.9" y="521.11" font-size="5.5" text-anchor="end" >10</text>
<line x1="117.3" y1="539.0" x2="119.5" y2="539.0" stroke="#000" stroke-width="1.1"/>
<text x="116.9" y="541.15" font-size="5.5" text-anchor="end" >0</text>
<text x="163.6" y="472.29" font-size="5.8" text-anchor="middle" >VCAM-1 Lung</text>
<text x="134.6" y="546.97" font-size="5.75" text-anchor="middle" >WT to WT</text>
<text x="164.45" y="546.97" font-size="5.75" text-anchor="middle" >WT to KO</text>
<text x="194.35" y="546.97" font-size="5.75" text-anchor="middle" >KO to WT</text>
<line x1="123.5" y1="551.4" x2="207" y2="551.4" stroke="#000" stroke-width="1.1"/>
<text x="164.5" y="557.84" font-size="6.5" text-anchor="middle" >LPS</text>
<path d="M165.2,503.45L165.2,501.05M165.2,503.45L167.48,502.71M165.2,503.45L166.61,505.39M165.2,503.45L163.79,505.39M165.2,503.45L162.92,502.71" stroke="#000" stroke-width="1.2" stroke-linecap="round" fill="none"/>
<line x1="236.15" y1="494.1" x2="236.15" y2="488.6" stroke="#000" stroke-width="1.1"/>
<line x1="230.98" y1="488.6" x2="241.32" y2="488.6" stroke="#000" stroke-width="1.1"/>
<rect x="226.35" y="494.6" width="19.6" height="45.4" fill="#000" stroke="#000" stroke-width="1.1"/>
<line x1="236.15" y1="540" x2="236.15" y2="541.5" stroke="#000" stroke-width="1.1"/>
<line x1="266.3" y1="520" x2="266.3" y2="517.6" stroke="#000" stroke-width="1.1"/>
<line x1="261.15" y1="517.6" x2="271.45" y2="517.6" stroke="#000" stroke-width="1.1"/>
<rect x="256.55" y="520.5" width="19.5" height="19.5" fill="#fff" stroke="#000" stroke-width="1.1"/>
<line x1="266.3" y1="540" x2="266.3" y2="541.5" stroke="#000" stroke-width="1.1"/>
<line x1="296.55" y1="517.4" x2="296.55" y2="513.8" stroke="#000" stroke-width="1.1"/>
<line x1="291.43" y1="513.8" x2="301.68" y2="513.8" stroke="#000" stroke-width="1.1"/>
<rect x="286.85" y="517.9" width="19.4" height="22.1" fill="#808080" stroke="#000" stroke-width="1.1"/>
<line x1="296.55" y1="540" x2="296.55" y2="541.5" stroke="#000" stroke-width="1.1"/>
<path d="M221.2,480H310.6V540" fill="none" stroke="#000" stroke-width="1.1"/>
<line x1="221.2" y1="480" x2="221.2" y2="540.55" stroke="#000" stroke-width="1.1"/>
<line x1="220.65" y1="540" x2="311.15" y2="540" stroke="#000" stroke-width="1.1"/>
<line x1="219.0" y1="480.0" x2="221.2" y2="480.0" stroke="#000" stroke-width="1.1"/>
<text x="218.6" y="482.15" font-size="5.5" text-anchor="end" >60</text>
<line x1="219.0" y1="500.0" x2="221.2" y2="500.0" stroke="#000" stroke-width="1.1"/>
<text x="218.6" y="502.15" font-size="5.5" text-anchor="end" >40</text>
<line x1="219.0" y1="520.0" x2="221.2" y2="520.0" stroke="#000" stroke-width="1.1"/>
<text x="218.6" y="522.15" font-size="5.5" text-anchor="end" >20</text>
<line x1="219.0" y1="540.0" x2="221.2" y2="540.0" stroke="#000" stroke-width="1.1"/>
<text x="218.6" y="542.15" font-size="5.5" text-anchor="end" >0</text>
<text x="266.2" y="472.29" font-size="5.8" text-anchor="middle" >ICAM-1 Lung</text>
<text x="236.15" y="548.07" font-size="5.75" text-anchor="middle" >WT to WT</text>
<text x="266.3" y="548.07" font-size="5.75" text-anchor="middle" >WT to KO</text>
<text x="296.55" y="548.07" font-size="5.75" text-anchor="middle" >KO to WT</text>
<line x1="222.9" y1="551.5" x2="306.5" y2="551.5" stroke="#000" stroke-width="1.1"/>
<text x="265.6" y="557.84" font-size="6.5" text-anchor="middle" >LPS</text>
<path d="M266.6,509.85L266.6,507.45M266.6,509.85L268.88,509.11M266.6,509.85L268.01,511.79M266.6,509.85L265.19,511.79M266.6,509.85L264.32,509.11" stroke="#000" stroke-width="1.2" stroke-linecap="round" fill="none"/>
<path d="M296.9,509.85L296.9,507.45M296.9,509.85L299.18,509.11M296.9,509.85L298.31,511.79M296.9,509.85L295.49,511.79M296.9,509.85L294.62,509.11" stroke="#000" stroke-width="1.2" stroke-linecap="round" fill="none"/>
<line x1="339.45" y1="496.9" x2="339.45" y2="487.4" stroke="#000" stroke-width="1.1"/>
<line x1="334.32" y1="487.4" x2="344.57" y2="487.4" stroke="#000" stroke-width="1.1"/>
<rect x="329.75" y="497.4" width="19.4" height="42.6" fill="#000" stroke="#000" stroke-width="1.1"/>
<line x1="339.45" y1="540" x2="339.45" y2="541.5" stroke="#000" stroke-width="1.1"/>
<line x1="369.25" y1="523.1" x2="369.25" y2="522.3" stroke="#000" stroke-width="1.1"/>
<line x1="364.23" y1="522.3" x2="374.27" y2="522.3" stroke="#000" stroke-width="1.1"/>
<rect x="359.75" y="523.6" width="19.0" height="16.4" fill="#fff" stroke="#000" stroke-width="1.1"/>
<line x1="369.25" y1="540" x2="369.25" y2="541.5" stroke="#000" stroke-width="1.1"/>
<line x1="399.45" y1="521.6" x2="399.45" y2="518.0" stroke="#000" stroke-width="1.1"/>
<line x1="394.38" y1="518.0" x2="404.53" y2="518.0" stroke="#000" stroke-width="1.1"/>
<rect x="389.85" y="522.1" width="19.2" height="17.9" fill="#808080" stroke="#000" stroke-width="1.1"/>
<line x1="399.45" y1="540" x2="399.45" y2="541.5" stroke="#000" stroke-width="1.1"/>
<path d="M323.7,479.6H414.8V540" fill="none" stroke="#000" stroke-width="1.1"/>
<line x1="323.7" y1="479.6" x2="323.7" y2="540.55" stroke="#000" stroke-width="1.1"/>
<line x1="323.15" y1="540" x2="415.35" y2="540" stroke="#000" stroke-width="1.1"/>
<line x1="321.5" y1="479.6" x2="323.7" y2="479.6" stroke="#000" stroke-width="1.1"/>
<text x="321.1" y="481.75" font-size="5.5" text-anchor="end" >80</text>
<line x1="321.5" y1="494.7" x2="323.7" y2="494.7" stroke="#000" stroke-width="1.1"/>
<text x="321.1" y="496.85" font-size="5.5" text-anchor="end" >60</text>
<line x1="321.5" y1="509.8" x2="323.7" y2="509.8" stroke="#000" stroke-width="1.1"/>
<text x="321.1" y="511.95" font-size="5.5" text-anchor="end" >40</text>
<line x1="321.5" y1="524.9" x2="323.7" y2="524.9" stroke="#000" stroke-width="1.1"/>
<text x="321.1" y="527.05" font-size="5.5" text-anchor="end" >20</text>
<line x1="321.5" y1="540.0" x2="323.7" y2="540.0" stroke="#000" stroke-width="1.1"/>
<text x="321.1" y="542.15" font-size="5.5" text-anchor="end" >0</text>
<text x="369.2" y="472.29" font-size="5.8" text-anchor="middle" >TF Lung</text>
<text x="339.45" y="548.07" font-size="5.75" text-anchor="middle" >WT to WT</text>
<text x="369.25" y="548.07" font-size="5.75" text-anchor="middle" >WT to KO</text>
<text x="399.45" y="548.07" font-size="5.75" text-anchor="middle" >KO to WT</text>
<line x1="328.2" y1="551.4" x2="411.9" y2="551.4" stroke="#000" stroke-width="1.1"/>
<text x="369.8" y="557.84" font-size="6.5" text-anchor="middle" >LPS</text>
<path d="M369.8,512.35L369.8,509.95M369.8,512.35L372.08,511.61M369.8,512.35L371.21,514.29M369.8,512.35L368.39,514.29M369.8,512.35L367.52,511.61" stroke="#000" stroke-width="1.2" stroke-linecap="round" fill="none"/>
<path d="M399.4,512.35L399.4,509.95M399.4,512.35L401.68,511.61M399.4,512.35L400.81,514.29M399.4,512.35L397.99,514.29M399.4,512.35L397.12,511.61" stroke="#000" stroke-width="1.2" stroke-linecap="round" fill="none"/>
<line x1="443.5" y1="491.5" x2="443.5" y2="487.3" stroke="#000" stroke-width="1.1"/>
<line x1="438.4" y1="487.3" x2="448.6" y2="487.3" stroke="#000" stroke-width="1.1"/>
<rect x="433.85" y="492.0" width="19.3" height="47.7" fill="#000" stroke="#000" stroke-width="1.1"/>
<line x1="443.5" y1="539.7" x2="443.5" y2="541.2" stroke="#000" stroke-width="1.1"/>
<line x1="473.2" y1="519.6" x2="473.2" y2="516.7" stroke="#000" stroke-width="1.1"/>
<line x1="468.05" y1="516.7" x2="478.35" y2="516.7" stroke="#000" stroke-width="1.1"/>
<rect x="463.45" y="520.1" width="19.5" height="19.6" fill="#fff" stroke="#000" stroke-width="1.1"/>
<line x1="473.2" y1="539.7" x2="473.2" y2="541.2" stroke="#000" stroke-width="1.1"/>
<line x1="503.4" y1="500.3" x2="503.4" y2="493.9" stroke="#000" stroke-width="1.1"/>
<line x1="498.2" y1="493.9" x2="508.6" y2="493.9" stroke="#000" stroke-width="1.1"/>
<rect x="493.55" y="500.8" width="19.7" height="38.9" fill="#808080" stroke="#000" stroke-width="1.1"/>
<line x1="503.4" y1="539.7" x2="503.4" y2="541.2" stroke="#000" stroke-width="1.1"/>
<path d="M427.4,479.6H517V539.7" fill="none" stroke="#000" stroke-width="1.1"/>
<line x1="427.4" y1="479.6" x2="427.4" y2="540.25" stroke="#000" stroke-width="1.1"/>
<line x1="426.85" y1="539.7" x2="517.55" y2="539.7" stroke="#000" stroke-width="1.1"/>
<line x1="425.2" y1="479.6" x2="427.4" y2="479.6" stroke="#000" stroke-width="1.1"/>
<text x="424.8" y="481.75" font-size="5.5" text-anchor="end" >20</text>
<line x1="425.2" y1="494.62" x2="427.4" y2="494.62" stroke="#000" stroke-width="1.1"/>
<text x="424.8" y="496.77" font-size="5.5" text-anchor="end" >15</text>
<line x1="425.2" y1="509.65" x2="427.4" y2="509.65" stroke="#000" stroke-width="1.1"/>
<text x="424.8" y="511.8" font-size="5.5" text-anchor="end" >10</text>
<line x1="425.2" y1="524.68" x2="427.4" y2="524.68" stroke="#000" stroke-width="1.1"/>
<text x="424.8" y="526.82" font-size="5.5" text-anchor="end" >5</text>
<line x1="425.2" y1="539.7" x2="427.4" y2="539.7" stroke="#000" stroke-width="1.1"/>
<text x="424.8" y="541.85" font-size="5.5" text-anchor="end" >0</text>
<text x="473.2" y="472.59" font-size="5.8" text-anchor="middle" >MCP-1 Lung</text>
<text x="443.5" y="548.37" font-size="5.75" text-anchor="middle" >WT to WT</text>
<text x="473.2" y="548.37" font-size="5.75" text-anchor="middle" >WT to KO</text>
<text x="503.4" y="548.37" font-size="5.75" text-anchor="middle" >KO to WT</text>
<line x1="433.8" y1="551.4" x2="518" y2="551.4" stroke="#000" stroke-width="1.1"/>
<text x="473.1" y="557.84" font-size="6.5" text-anchor="middle" >LPS</text>
<path d="M473.1,511.65L473.1,509.25M473.1,511.65L475.38,510.91M473.1,511.65L474.51,513.59M473.1,511.65L471.69,513.59M473.1,511.65L470.82,510.91" stroke="#000" stroke-width="1.2" stroke-linecap="round" fill="none"/>
<line x1="32.25" y1="602.9" x2="32.25" y2="592.5" stroke="#000" stroke-width="1.1"/>
<line x1="27.23" y1="592.5" x2="37.27" y2="592.5" stroke="#000" stroke-width="1.1"/>
<rect x="22.75" y="603.4" width="19.0" height="33.1" fill="#000" stroke="#000" stroke-width="1.1"/>
<line x1="32.25" y1="636.5" x2="32.25" y2="638.0" stroke="#000" stroke-width="1.1"/>
<line x1="62.2" y1="613" x2="62.2" y2="611.5" stroke="#000" stroke-width="1.1"/>
<line x1="57.0" y1="611.5" x2="67.4" y2="611.5" stroke="#000" stroke-width="1.1"/>
<rect x="52.35" y="613.5" width="19.7" height="23.0" fill="#fff" stroke="#000" stroke-width="1.1"/>
<line x1="62.2" y1="636.5" x2="62.2" y2="638.0" stroke="#000" stroke-width="1.1"/>
<line x1="92.35" y1="616" x2="92.35" y2="612.0" stroke="#000" stroke-width="1.1"/>
<line x1="87.22" y1="612.0" x2="97.47" y2="612.0" stroke="#000" stroke-width="1.1"/>
<rect x="82.65" y="616.5" width="19.4" height="20.0" fill="#808080" stroke="#000" stroke-width="1.1"/>
<line x1="92.35" y1="636.5" x2="92.35" y2="638.0" stroke="#000" stroke-width="1.1"/>
<path d="M18.2,576.8H107V636.5" fill="none" stroke="#000" stroke-width="1.1"/>
<line x1="18.2" y1="576.8" x2="18.2" y2="637.05" stroke="#000" stroke-width="1.1"/>
<line x1="17.65" y1="636.5" x2="107.55" y2="636.5" stroke="#000" stroke-width="1.1"/>
<line x1="16.0" y1="576.8" x2="18.2" y2="576.8" stroke="#000" stroke-width="1.1"/>
<text x="15.6" y="579.05" font-size="5.5" text-anchor="end" >2.0</text>
<line x1="16.0" y1="591.72" x2="18.2" y2="591.72" stroke="#000" stroke-width="1.1"/>
<text x="15.6" y="593.97" font-size="5.5" text-anchor="end" >1.5</text>
<line x1="16.0" y1="606.65" x2="18.2" y2="606.65" stroke="#000" stroke-width="1.1"/>
<text x="15.6" y="608.9" font-size="5.5" text-anchor="end" >1.0</text>
<line x1="16.0" y1="621.58" x2="18.2" y2="621.58" stroke="#000" stroke-width="1.1"/>
<text x="15.6" y="623.82" font-size="5.5" text-anchor="end" >0.5</text>
<line x1="16.0" y1="636.5" x2="18.2" y2="636.5" stroke="#000" stroke-width="1.1"/>
<text x="15.6" y="638.75" font-size="5.5" text-anchor="end" >0.0</text>
<text x="59.9" y="568.99" font-size="5.8" text-anchor="middle" >E-Selectin Kidney</text>
<text x="32.25" y="644.96" font-size="6.0" text-anchor="middle" >WT to WT</text>
<text x="62.2" y="644.96" font-size="6.0" text-anchor="middle" >WT to KO</text>
<text x="92.35" y="644.96" font-size="6.0" text-anchor="middle" >KO to WT</text>
<line x1="19.2" y1="649.2" x2="103" y2="649.2" stroke="#000" stroke-width="1.1"/>
<text x="60.3" y="656.04" font-size="6.5" text-anchor="middle" >LPS</text>
<rect x="69.0" y="579.2" width="6.4" height="4.0" fill="#000" stroke="#000" stroke-width="1"/>
<text x="78.9" y="583.27" font-size="5.75" text-anchor="start" >WT to WT</text>
<rect x="69.0" y="586.5" width="6.4" height="3.3" fill="#fff" stroke="#000" stroke-width="1"/>
<text x="78.9" y="590.22" font-size="5.75" text-anchor="start" >WT to KO</text>
<rect x="69.0" y="593.2" width="6.4" height="3.8" fill="#808080" stroke="#000" stroke-width="1"/>
<text x="78.9" y="597.17" font-size="5.75" text-anchor="start" >KO to WT</text>
<line x1="134.05" y1="595.1" x2="134.05" y2="586.8" stroke="#000" stroke-width="1.1"/>
<line x1="128.88" y1="586.8" x2="139.23" y2="586.8" stroke="#000" stroke-width="1.1"/>
<rect x="124.25" y="595.6" width="19.6" height="41.6" fill="#000" stroke="#000" stroke-width="1.1"/>
<line x1="134.05" y1="637.2" x2="134.05" y2="638.7" stroke="#000" stroke-width="1.1"/>
<line x1="164.2" y1="589.8" x2="164.2" y2="583.6" stroke="#000" stroke-width="1.1"/>
<line x1="159.05" y1="583.6" x2="169.35" y2="583.6" stroke="#000" stroke-width="1.1"/>
<rect x="154.45" y="590.3" width="19.5" height="46.9" fill="#fff" stroke="#000" stroke-width="1.1"/>
<line x1="164.2" y1="637.2" x2="164.2" y2="638.7" stroke="#000" stroke-width="1.1"/>
<line x1="194.65" y1="594" x2="194.65" y2="588.3" stroke="#000" stroke-width="1.1"/>
<line x1="189.62" y1="588.3" x2="199.67" y2="588.3" stroke="#000" stroke-width="1.1"/>
<rect x="185.15" y="594.5" width="19.0" height="42.7" fill="#808080" stroke="#000" stroke-width="1.1"/>
<line x1="194.65" y1="637.2" x2="194.65" y2="638.7" stroke="#000" stroke-width="1.1"/>
<path d="M119,577H209.4V637.2" fill="none" stroke="#000" stroke-width="1.1"/>
<line x1="119" y1="577" x2="119" y2="637.75" stroke="#000" stroke-width="1.1"/>
<line x1="118.45" y1="637.2" x2="209.95" y2="637.2" stroke="#000" stroke-width="1.1"/>
<line x1="116.8" y1="577.0" x2="119" y2="577.0" stroke="#000" stroke-width="1.1"/>
<text x="116.4" y="579.25" font-size="5.5" text-anchor="end" >15</text>
<line x1="116.8" y1="597.07" x2="119" y2="597.07" stroke="#000" stroke-width="1.1"/>
<text x="116.4" y="599.31" font-size="5.5" text-anchor="end" >10</text>
<line x1="116.8" y1="617.13" x2="119" y2="617.13" stroke="#000" stroke-width="1.1"/>
<text x="116.4" y="619.38" font-size="5.5" text-anchor="end" >5</text>
<line x1="116.8" y1="637.2" x2="119" y2="637.2" stroke="#000" stroke-width="1.1"/>
<text x="116.4" y="639.45" font-size="5.5" text-anchor="end" >0</text>
<text x="164" y="569.39" font-size="5.8" text-anchor="middle" >VCAM-1 Kidney</text>
<text x="134.05" y="645.16" font-size="6.0" text-anchor="middle" >WT to WT</text>
<text x="164.2" y="645.16" font-size="6.0" text-anchor="middle" >WT to KO</text>
<text x="194.65" y="645.16" font-size="6.0" text-anchor="middle" >KO to WT</text>
<line x1="121.3" y1="649.2" x2="205.1" y2="649.2" stroke="#000" stroke-width="1.1"/>
<text x="163.5" y="656.04" font-size="6.5" text-anchor="middle" >LPS</text>
<line x1="236.15" y1="596.5" x2="236.15" y2="585.1" stroke="#000" stroke-width="1.1"/>
<line x1="230.98" y1="585.1" x2="241.32" y2="585.1" stroke="#000" stroke-width="1.1"/>
<rect x="226.35" y="597.0" width="19.6" height="40.6" fill="#000" stroke="#000" stroke-width="1.1"/>
<line x1="236.15" y1="637.6" x2="236.15" y2="639.1" stroke="#000" stroke-width="1.1"/>
<line x1="266.3" y1="621.5" x2="266.3" y2="619.0" stroke="#000" stroke-width="1.1"/>
<line x1="261.15" y1="619.0" x2="271.45" y2="619.0" stroke="#000" stroke-width="1.1"/>
<rect x="256.55" y="622.0" width="19.5" height="15.6" fill="#fff" stroke="#000" stroke-width="1.1"/>
<line x1="266.3" y1="637.6" x2="266.3" y2="639.1" stroke="#000" stroke-width="1.1"/>
<line x1="296.75" y1="614.5" x2="296.75" y2="609.9" stroke="#000" stroke-width="1.1"/>
<line x1="291.73" y1="609.9" x2="301.77" y2="609.9" stroke="#000" stroke-width="1.1"/>
<rect x="287.25" y="615.0" width="19.0" height="22.6" fill="#808080" stroke="#000" stroke-width="1.1"/>
<line x1="296.75" y1="637.6" x2="296.75" y2="639.1" stroke="#000" stroke-width="1.1"/>
<path d="M221.4,577H311.5V637.6" fill="none" stroke="#000" stroke-width="1.1"/>
<line x1="221.4" y1="577" x2="221.4" y2="638.15" stroke="#000" stroke-width="1.1"/>
<line x1="220.85" y1="637.6" x2="312.05" y2="637.6" stroke="#000" stroke-width="1.1"/>
<line x1="219.2" y1="577.0" x2="221.4" y2="577.0" stroke="#000" stroke-width="1.1"/>
<text x="218.8" y="579.25" font-size="5.5" text-anchor="end" >15</text>
<line x1="219.2" y1="597.2" x2="221.4" y2="597.2" stroke="#000" stroke-width="1.1"/>
<text x="218.8" y="599.45" font-size="5.5" text-anchor="end" >10</text>
<line x1="219.2" y1="617.4" x2="221.4" y2="617.4" stroke="#000" stroke-width="1.1"/>
<text x="218.8" y="619.65" font-size="5.5" text-anchor="end" >5</text>
<line x1="219.2" y1="637.6" x2="221.4" y2="637.6" stroke="#000" stroke-width="1.1"/>
<text x="218.8" y="639.85" font-size="5.5" text-anchor="end" >0</text>
<text x="266.4" y="569.39" font-size="5.8" text-anchor="middle" >ICAM-1 Kidney</text>
<text x="236.15" y="645.16" font-size="6.0" text-anchor="middle" >WT to WT</text>
<text x="266.3" y="645.16" font-size="6.0" text-anchor="middle" >WT to KO</text>
<text x="296.75" y="645.16" font-size="6.0" text-anchor="middle" >KO to WT</text>
<line x1="224.8" y1="649.2" x2="308.5" y2="649.2" stroke="#000" stroke-width="1.1"/>
<text x="266" y="656.04" font-size="6.5" text-anchor="middle" >LPS</text>
<path d="M267.3,611.55L267.3,609.15M267.3,611.55L269.58,610.81M267.3,611.55L268.71,613.49M267.3,611.55L265.89,613.49M267.3,611.55L265.02,610.81" stroke="#000" stroke-width="1.2" stroke-linecap="round" fill="none"/>
<line x1="339.15" y1="594.8" x2="339.15" y2="585.1" stroke="#000" stroke-width="1.1"/>
<line x1="333.88" y1="585.1" x2="344.42" y2="585.1" stroke="#000" stroke-width="1.1"/>
<rect x="329.15" y="595.3" width="20.0" height="41.4" fill="#000" stroke="#000" stroke-width="1.1"/>
<line x1="339.15" y1="636.7" x2="339.15" y2="638.2" stroke="#000" stroke-width="1.1"/>
<line x1="369.25" y1="627.8" x2="369.25" y2="627.0" stroke="#000" stroke-width="1.1"/>
<line x1="364.23" y1="627.0" x2="374.27" y2="627.0" stroke="#000" stroke-width="1.1"/>
<rect x="359.75" y="628.3" width="19.0" height="8.4" fill="#fff" stroke="#000" stroke-width="1.1"/>
<line x1="369.25" y1="636.7" x2="369.25" y2="638.2" stroke="#000" stroke-width="1.1"/>
<line x1="399.75" y1="606.1" x2="399.75" y2="596.1" stroke="#000" stroke-width="1.1"/>
<line x1="394.82" y1="596.1" x2="404.68" y2="596.1" stroke="#000" stroke-width="1.1"/>
<rect x="390.45" y="606.6" width="18.6" height="30.1" fill="#808080" stroke="#000" stroke-width="1.1"/>
<line x1="399.75" y1="636.7" x2="399.75" y2="638.2" stroke="#000" stroke-width="1.1"/>
<path d="M324.1,576.3H414.6V636.7" fill="none" stroke="#000" stroke-width="1.1"/>
<line x1="324.1" y1="576.3" x2="324.1" y2="637.25" stroke="#000" stroke-width="1.1"/>
<line x1="323.55" y1="636.7" x2="415.15" y2="636.7" stroke="#000" stroke-width="1.1"/>
<line x1="321.9" y1="576.3" x2="324.1" y2="576.3" stroke="#000" stroke-width="1.1"/>
<text x="321.5" y="578.55" font-size="5.5" text-anchor="end" >80</text>
<line x1="321.9" y1="591.4" x2="324.1" y2="591.4" stroke="#000" stroke-width="1.1"/>
<text x="321.5" y="593.65" font-size="5.5" text-anchor="end" >60</text>
<line x1="321.9" y1="606.5" x2="324.1" y2="606.5" stroke="#000" stroke-width="1.1"/>
<text x="321.5" y="608.75" font-size="5.5" text-anchor="end" >40</text>
<line x1="321.9" y1="621.6" x2="324.1" y2="621.6" stroke="#000" stroke-width="1.1"/>
<text x="321.5" y="623.85" font-size="5.5" text-anchor="end" >20</text>
<line x1="321.9" y1="636.7" x2="324.1" y2="636.7" stroke="#000" stroke-width="1.1"/>
<text x="321.5" y="638.95" font-size="5.5" text-anchor="end" >0</text>
<text x="369.2" y="568.99" font-size="5.8" text-anchor="middle" >TF Kidney</text>
<text x="339.15" y="645.16" font-size="6.0" text-anchor="middle" >WT to WT</text>
<text x="369.25" y="645.16" font-size="6.0" text-anchor="middle" >WT to KO</text>
<text x="399.75" y="645.16" font-size="6.0" text-anchor="middle" >KO to WT</text>
<line x1="328.2" y1="649.2" x2="412.3" y2="649.2" stroke="#000" stroke-width="1.1"/>
<text x="369.4" y="656.04" font-size="6.5" text-anchor="middle" >LPS</text>
<path d="M369.8,621.15L369.8,618.75M369.8,621.15L372.08,620.41M369.8,621.15L371.21,623.09M369.8,621.15L368.39,623.09M369.8,621.15L367.52,620.41" stroke="#000" stroke-width="1.2" stroke-linecap="round" fill="none"/>
<line x1="441.25" y1="596" x2="441.25" y2="591.8" stroke="#000" stroke-width="1.1"/>
<line x1="436.18" y1="591.8" x2="446.32" y2="591.8" stroke="#000" stroke-width="1.1"/>
<rect x="431.65" y="596.5" width="19.2" height="40.2" fill="#000" stroke="#000" stroke-width="1.1"/>
<line x1="441.25" y1="636.7" x2="441.25" y2="638.2" stroke="#000" stroke-width="1.1"/>
<line x1="471.35" y1="614.1" x2="471.35" y2="611.5" stroke="#000" stroke-width="1.1"/>
<line x1="466.38" y1="611.5" x2="476.33" y2="611.5" stroke="#000" stroke-width="1.1"/>
<rect x="461.95" y="614.6" width="18.8" height="22.1" fill="#fff" stroke="#000" stroke-width="1.1"/>
<line x1="471.35" y1="636.7" x2="471.35" y2="638.2" stroke="#000" stroke-width="1.1"/>
<line x1="501.4" y1="596.9" x2="501.4" y2="590.7" stroke="#000" stroke-width="1.1"/>
<line x1="496.3" y1="590.7" x2="506.5" y2="590.7" stroke="#000" stroke-width="1.1"/>
<rect x="491.75" y="597.4" width="19.3" height="39.3" fill="#808080" stroke="#000" stroke-width="1.1"/>
<line x1="501.4" y1="636.7" x2="501.4" y2="638.2" stroke="#000" stroke-width="1.1"/>
<path d="M426.1,577.2H515.8V636.7" fill="none" stroke="#000" stroke-width="1.1"/>
<line x1="426.1" y1="577.2" x2="426.1" y2="637.25" stroke="#000" stroke-width="1.1"/>
<line x1="425.55" y1="636.7" x2="516.35" y2="636.7" stroke="#000" stroke-width="1.1"/>
<line x1="423.9" y1="577.2" x2="426.1" y2="577.2" stroke="#000" stroke-width="1.1"/>
<text x="423.5" y="579.45" font-size="5.5" text-anchor="end" >25</text>
<line x1="423.9" y1="589.1" x2="426.1" y2="589.1" stroke="#000" stroke-width="1.1"/>
<text x="423.5" y="591.35" font-size="5.5" text-anchor="end" >20</text>
<line x1="423.9" y1="601.0" x2="426.1" y2="601.0" stroke="#000" stroke-width="1.1"/>
<text x="423.5" y="603.25" font-size="5.5" text-anchor="end" >15</text>
<line x1="423.9" y1="612.9" x2="426.1" y2="612.9" stroke="#000" stroke-width="1.1"/>
<text x="423.5" y="615.15" font-size="5.5" text-anchor="end" >10</text>
<line x1="423.9" y1="624.8" x2="426.1" y2="624.8" stroke="#000" stroke-width="1.1"/>
<text x="423.5" y="627.05" font-size="5.5" text-anchor="end" >5</text>
<line x1="423.9" y1="636.7" x2="426.1" y2="636.7" stroke="#000" stroke-width="1.1"/>
<text x="423.5" y="638.95" font-size="5.5" text-anchor="end" >0</text>
<text x="471" y="567.99" font-size="5.8" text-anchor="middle" >MCP-1 Kidney</text>
<text x="441.25" y="644.96" font-size="6.0" text-anchor="middle" >WT to WT</text>
<text x="471.35" y="644.96" font-size="6.0" text-anchor="middle" >WT to KO</text>
<text x="501.4" y="644.96" font-size="6.0" text-anchor="middle" >KO to WT</text>
<line x1="431" y1="649.2" x2="514.6" y2="649.2" stroke="#000" stroke-width="1.1"/>
<text x="470.9" y="655.84" font-size="6.5" text-anchor="middle" >LPS</text>
<path d="M470.9,605.05L470.9,602.65M470.9,605.05L473.18,604.31M470.9,605.05L472.31,606.99M470.9,605.05L469.49,606.99M470.9,605.05L468.62,604.31" stroke="#000" stroke-width="1.2" stroke-linecap="round" fill="none"/>
</svg></body></html>
